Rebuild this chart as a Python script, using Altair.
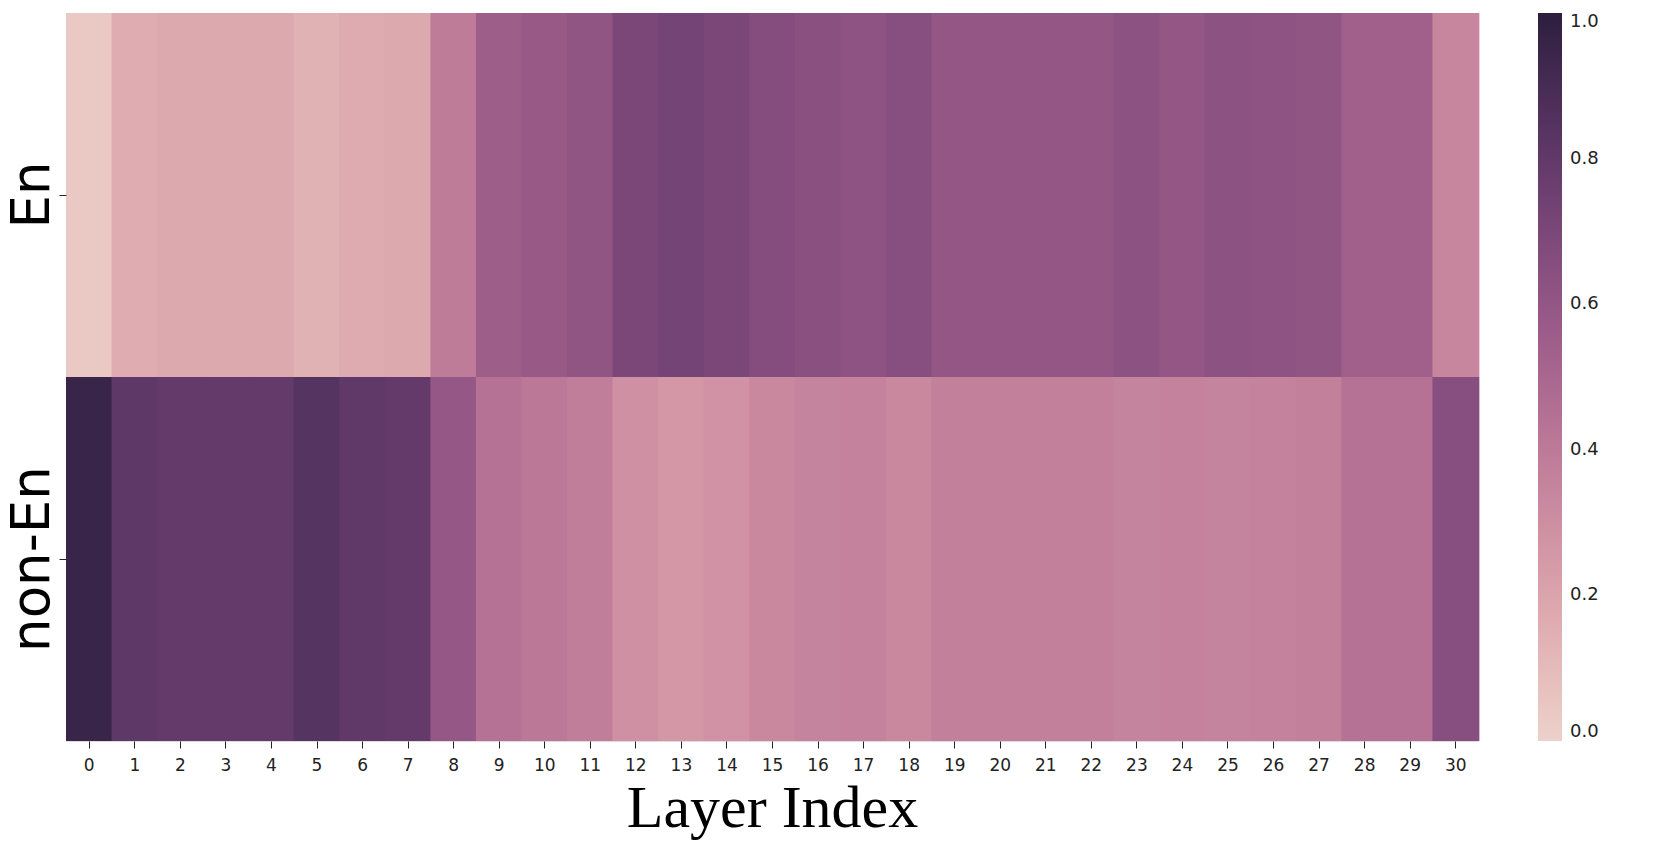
import altair as alt
import numpy as np
import pandas as pd

layers = list(range(31))
en_values = [0.04, 0.16, 0.18, 0.18, 0.18, 0.14, 0.17, 0.18, 0.39, 0.55, 0.58, 0.61,
             0.70, 0.72, 0.70, 0.66, 0.64, 0.62, 0.65, 0.60, 0.60, 0.60, 0.60, 0.63,
             0.60, 0.63, 0.62, 0.61, 0.54, 0.54, 0.34]
non_en_values = [0.95, 0.81, 0.79, 0.79, 0.79, 0.84, 0.80, 0.79, 0.59, 0.44, 0.41, 0.38,
                 0.29, 0.26, 0.28, 0.33, 0.35, 0.36, 0.33, 0.37, 0.37, 0.37, 0.37, 0.35,
                 0.36, 0.35, 0.36, 0.37, 0.44, 0.44, 0.65]
rows = ["En", "non-En"]

# seaborn default cubehelix_palette(as_cmap=True) colour stops
def cubehelix_hex(n=16, start=0.0, rot=0.4, gamma=1.0, hue=0.8, light=0.85, dark=0.15):
    def comp(x, p0, p1):
        xg = x ** gamma
        a = hue * xg * (1 - xg) / 2
        phi = 2 * np.pi * (start / 3 + rot * x)
        return np.clip(xg + a * (p0 * np.cos(phi) + p1 * np.sin(phi)), 0, 1)
    xs = np.linspace(light, dark, n)
    r = comp(xs, -0.14861, 1.78277)
    g = comp(xs, -0.29227, -0.90649)
    b = comp(xs, 1.97294, 0.0)
    return ["#%02x%02x%02x" % (int(round(rr * 255)), int(round(gg * 255)), int(round(bb * 255)))
            for rr, gg, bb in zip(r, g, b)]

palette = cubehelix_hex()

df = pd.DataFrame({
    "layer": layers * 2,
    "row": [rows[0]] * len(layers) + [rows[1]] * len(layers),
    "value": en_values + non_en_values,
})

PLOT_W, PLOT_H = 1412, 728

chart = alt.Chart(df).transform_calculate(
    x0="datum.layer - 0.5",
    x1="datum.layer + 0.53",
).mark_rect().encode(
    x=alt.X("x0:Q",
            scale=alt.Scale(domain=[-0.5, 30.5], nice=False, zero=False),
            axis=alt.Axis(title="Layer Index", values=layers, format="d", grid=False,
                          labelAngle=0, labelFontSize=17,
                          labelFont="DejaVu Sans", labelColor="#222",
                          tickSize=7, tickColor="#222", domain=False,
                          labelPadding=9, labelFlush=False, labelOverlap=False,
                          titleFont="Liberation Serif", titleFontSize=60,
                          titleFontWeight="normal", titleColor="#000", titlePadding=6)),
    x2="x1:Q",
    y=alt.Y("row:N", sort=rows,
            scale=alt.Scale(paddingInner=0, paddingOuter=0),
            axis=alt.Axis(title=None, labelAngle=270, labelFontSize=53, labelLimit=400,
                          labelFont="DejaVu Sans", labelColor="#000",
                          labelAlign="center", labelBaseline="bottom",
                          tickSize=7, tickColor="#222", domain=False, labelPadding=0)),
    color=alt.Color("value:Q",
                    scale=alt.Scale(domain=[0, 1], range=palette, interpolate="rgb"),
                    legend=alt.Legend(type="gradient", title=None, orient="right",
                                      gradientLength=PLOT_H, gradientThickness=24, offset=60,
                                      values=[0, 0.2, 0.4, 0.6, 0.8, 1.0], format=".1f",
                                      labelFontSize=18, labelFont="DejaVu Sans",
                                      labelColor="#222", labelOffset=8,
                                      gradientStrokeWidth=0, direction="vertical")),
).properties(
    width=PLOT_W, height=PLOT_H,
    autosize=alt.AutoSizeParams(type="none"),
    padding={"left": 58, "top": 5, "right": 174, "bottom": 100},
).configure_view(stroke=None).configure(background="white")

chart.save("out.html", embed_options={"renderer": "svg", "actions": False})
